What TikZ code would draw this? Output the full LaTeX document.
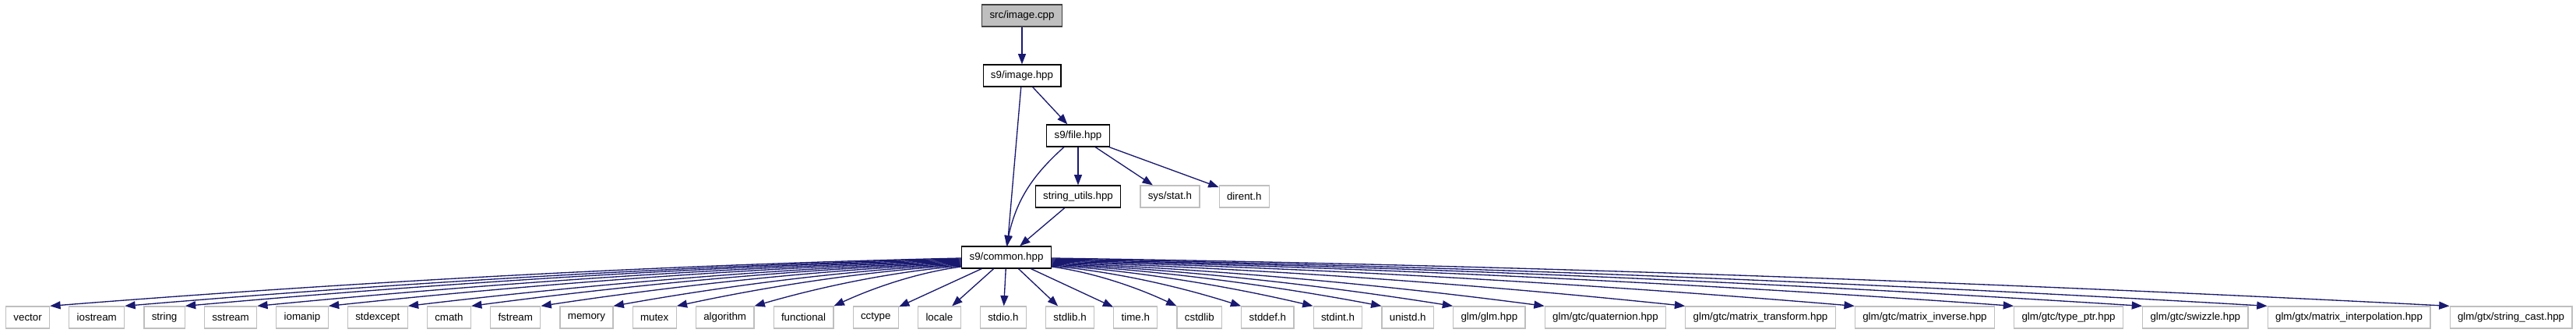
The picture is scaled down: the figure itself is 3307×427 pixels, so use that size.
\documentclass[tikz,border=0pt]{standalone}
\usepackage{fontspec}
\setmainfont{Liberation Sans}
\usepackage{tikz}
\usetikzlibrary{arrows.meta,positioning,calc}
\definecolor{incblue}{HTML}{191970}
\definecolor{leafgray}{HTML}{BFBFBF}
\definecolor{rootfill}{HTML}{BFBFBF}
\definecolor{rootline}{HTML}{404040}
\tikzset{
  file/.style={draw=black,line width=0.9pt,fill=white,minimum height=21pt,inner xsep=7.4pt,inner ysep=0pt},
  leaf/.style={file,draw=leafgray},
  root/.style={file,draw=rootline,fill=rootfill},
  incl/.style={draw=incblue,line width=1pt,-{Triangle[length=10pt,width=7.5pt]}}
}

\begin{document}
\begin{tikzpicture}[x=0.75pt,y=-0.75pt]
  \useasboundingbox (0,0) rectangle (3307,427);
  \node[root] (cpp) at (1312,20) {src/image.cpp};
  \node[file] (image) at (1312,97) {s9/image.hpp};
  \node[file] (fileh) at (1384,174) {s9/file.hpp};
  \node[file] (strutil) at (1384,252) {string\_utils.hpp};
  \node[leaf,right=18pt of strutil] (stat) {sys/stat.h};
  \node[leaf,right=18pt of stat] (dirent) {dirent.h};
  \node[file] (common) at (1292,330) {s9/common.hpp};
  \node[leaf,anchor=west] (vector) at (7,407) {vector};
  \foreach \n/\t [remember=\n as \p (initially vector)] in {iostream/iostream,string/string,sstream/sstream,
      iomanip/iomanip,stdexcept/stdexcept,cmath/cmath,fstream/fstream,memory/memory,mutex/mutex,
      algorithm/algorithm,functional/functional,cctype/cctype,locale/locale,stdio/stdio.h,stdlib/stdlib.h,
      time/time.h,cstdlib/cstdlib,stddef/stddef.h,stdint/stdint.h,unistd/unistd.h,glm/{glm/glm.hpp},
      quat/{glm/gtc/quaternion.hpp},mtransform/{glm/gtc/matrix\_transform.hpp},
      minverse/{glm/gtc/matrix\_inverse.hpp},typeptr/{glm/gtc/type\_ptr.hpp},swizzle/{glm/gtc/swizzle.hpp},
      minterp/{glm/gtx/matrix\_interpolation.hpp},strcast/{glm/gtx/string\_cast.hpp}}
    \node[leaf,right=18pt of \p] (\n) {\t};

  \draw[incl] (cpp) -- (image);
  \draw[incl] (image) -- (fileh);
  \draw[incl] (image) -- (common);
  \draw[incl] (fileh) to[bend right=18] (common.north);
  \draw[incl] (fileh) -- (strutil);
  \draw[incl] (fileh) -- (stat);
  \draw[incl] (fileh) -- (dirent);
  \draw[incl] (strutil) -- (common);
  \foreach \tgt/\s in {vector/1,iostream/2,string/3,sstream/4,iomanip/5,stdexcept/6,cmath/7,
      fstream/8,memory/9,mutex/10,algorithm/11,functional/12}
    \draw[incl] let \p1=($(common.west)+(0,\s)$), \p2=(\tgt.north east) in
      (\p1) .. controls ({\x1+0.35*(\x2-\x1)},{\y1+0.15*(\y2-\y1)})
                  and ({\x1+0.7*(\x2-\x1)},{\y1+0.55*(\y2-\y1)}) .. (\p2);
  \foreach \tgt in {cctype,locale,stdio,stdlib,time}
    \draw[incl] (common) -- (\tgt);
  \foreach \tgt/\s in {cstdlib/12,stddef/11,stdint/10,unistd/9,glm/8,quat/7,mtransform/6,
      minverse/5,typeptr/4,swizzle/3,minterp/2,strcast/1}
    \draw[incl] let \p1=($(common.east)+(0,\s)$), \p2=(\tgt.north west) in
      (\p1) .. controls ({\x1+0.35*(\x2-\x1)},{\y1+0.15*(\y2-\y1)})
                  and ({\x1+0.7*(\x2-\x1)},{\y1+0.55*(\y2-\y1)}) .. (\p2);
\end{tikzpicture}
\end{document}
